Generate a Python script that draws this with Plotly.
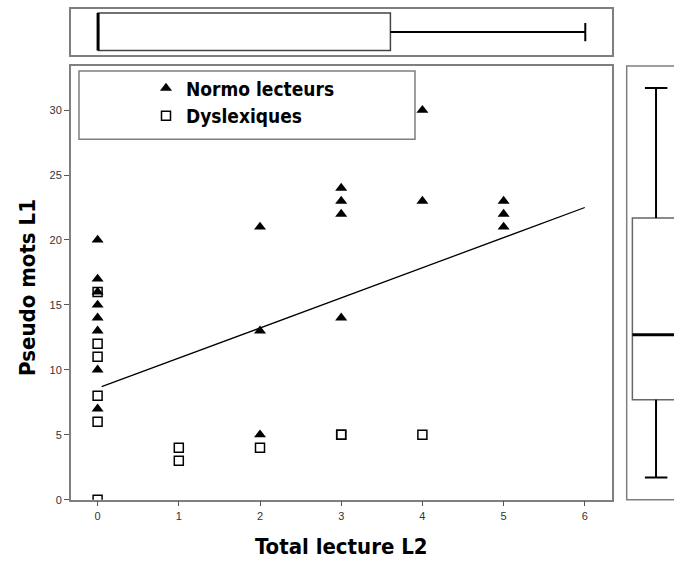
import plotly.graph_objects as go

# ---- data ----
normo_x = [0, 0, 0, 0, 0, 0, 0, 0, 2, 2, 2, 3, 3, 3, 3, 4, 4, 5, 5, 5]
normo_y = [20, 17, 16, 15, 14, 13, 10, 7, 21, 13, 5, 24, 23, 22, 14, 30, 23, 23, 22, 21]
dys_x = [0, 0, 0, 0, 0, 0, 1, 1, 2, 3, 3, 4]
dys_y = [16, 12, 11, 8, 6, 0, 4, 3, 4, 5, 5, 5]
fit_x = [0.05, 6]
fit_y = [8.7, 22.5]
# boxplot statistics: min, q1, median, q3, max
box_x_stats = [0, 0, 0, 3, 5]       # Total lecture L2
box_y_stats = [0, 6, 11, 20, 30]    # Pseudo mots L1
x_ticks = [0, 1, 2, 3, 4, 5, 6]
y_ticks = [0, 5, 10, 15, 20, 25, 30]

W, H = 674, 566
def px(x): return x / W
def py(y): return (H - y) / H

TITLE_FONT = dict(family="Liberation Sans Narrow, DejaVu Sans Condensed, Arial Narrow, sans-serif",
                  size=22, color="black", weight="bold")
TICK_FONT = dict(family="Liberation Sans, Arial, sans-serif", size=11, color="#333")
FRAME = "#7f7f7f"

fig = go.Figure()

# main scatter
fig.add_trace(go.Scatter(x=normo_x, y=normo_y, mode="markers", name="Normo lecteurs",
                         marker=dict(symbol="triangle-up", size=10.5, color="black",
                                     line=dict(width=0))))
fig.add_trace(go.Scatter(x=dys_x, y=dys_y, mode="markers", name="Dyslexiques",
                         marker=dict(symbol="square", size=9, color="rgba(255,255,255,0)",
                                     line=dict(width=1.5, color="black"))))
fig.add_trace(go.Scatter(x=fit_x, y=fit_y, mode="lines", showlegend=False,
                         line=dict(color="black", width=1.3)))

# top boxplot (horizontal) on xaxis2/yaxis2
mn, q1, md, q3, mx = box_x_stats
b0, b1, wy, c0, c1 = 0.10, 0.915, 0.505, 0.30, 0.70
fig.add_trace(go.Scatter(x=[q1, q3, q3, q1, q1], y=[b0, b0, b1, b1, b0], mode="lines",
                         line=dict(color="#444", width=1.5), showlegend=False,
                         xaxis="x2", yaxis="y2"))
fig.add_trace(go.Scatter(x=[md, md], y=[b0, b1], mode="lines",
                         line=dict(color="black", width=3), showlegend=False,
                         xaxis="x2", yaxis="y2"))
fig.add_trace(go.Scatter(x=[q3, mx, None, mn, q1], y=[wy, wy, None, wy, wy], mode="lines",
                         line=dict(color="black", width=2), showlegend=False,
                         xaxis="x2", yaxis="y2"))
fig.add_trace(go.Scatter(x=[mx, mx, None, mn, mn], y=[c0, c1, None, c0, c1], mode="lines",
                         line=dict(color="black", width=2), showlegend=False,
                         xaxis="x2", yaxis="y2"))

# right boxplot (vertical) on xaxis3/yaxis3
mn, q1, md, q3, mx = box_y_stats
a0, a1, wx, d0, d1 = 0.12, 1.2, 0.62, 0.385, 0.86
fig.add_trace(go.Scatter(x=[a1, a0, a0, a1], y=[q1, q1, q3, q3], mode="lines",
                         line=dict(color="#666", width=1.5), showlegend=False,
                         xaxis="x3", yaxis="y3", cliponaxis=True))
fig.add_trace(go.Scatter(x=[a0, a1], y=[md, md], mode="lines",
                         line=dict(color="black", width=3), showlegend=False,
                         xaxis="x3", yaxis="y3"))
fig.add_trace(go.Scatter(x=[wx, wx, None, wx, wx], y=[q3, mx, None, mn, q1], mode="lines",
                         line=dict(color="black", width=2), showlegend=False,
                         xaxis="x3", yaxis="y3"))
fig.add_trace(go.Scatter(x=[d0, d1, None, d0, d1], y=[mx, mx, None, mn, mn], mode="lines",
                         line=dict(color="black", width=2), showlegend=False,
                         xaxis="x3", yaxis="y3"))

main_xd = [px(70.8), px(611.6)]
main_yd = [py(505), py(66.7)]

rx0, rx1 = px(626.7), px(720)
ry0, ry1 = main_yd
right_frame = f"M {rx1},{ry0} L {rx0},{ry0} L {rx0},{ry1} L {rx1},{ry1}"

fig.update_layout(
    width=W, height=H, margin=dict(l=0, r=0, t=0, b=0),
    plot_bgcolor="white", paper_bgcolor="white",
    xaxis=dict(domain=main_xd, range=[-0.33, 6.33], tickvals=x_ticks,
               showgrid=False, zeroline=False, showline=True, mirror=True,
               linecolor=FRAME, linewidth=1.5, ticks="outside", ticklen=5,
               tickcolor="#555", tickfont=TICK_FONT),
    yaxis=dict(domain=main_yd, range=[0, 33.4], tickvals=y_ticks,
               showgrid=False, zeroline=False, showline=True, mirror=True,
               linecolor=FRAME, linewidth=1.5, ticks="outside", ticklen=5,
               tickcolor="#555", tickfont=TICK_FONT),
    xaxis2=dict(domain=main_xd, range=[-0.28, 5.27], anchor="y2", visible=True,
                showticklabels=False, ticks="", showgrid=False, zeroline=False,
                showline=True, mirror=True, linecolor=FRAME, linewidth=1.5),
    yaxis2=dict(domain=[py(55.7), py(9.3)], range=[0, 1], anchor="x2",
                showticklabels=False, ticks="", showgrid=False, zeroline=False,
                showline=True, mirror=True, linecolor=FRAME, linewidth=1.5),
    xaxis3=dict(domain=[px(626.7), 1.0], range=[0, 1], anchor="y3", visible=False),
    yaxis3=dict(domain=main_yd, range=[-1.7, 31.7], anchor="x3", visible=False),
    showlegend=True,
    legend=dict(x=px(146), y=py(70), xanchor="left", yanchor="top",
                bgcolor="rgba(0,0,0,0)", borderwidth=0, tracegroupgap=0,
                font=dict(family=TITLE_FONT["family"], size=19, color="black", weight="bold")),
    shapes=[
        dict(type="rect", xref="paper", yref="paper", x0=px(79), x1=px(415),
             y0=py(140.7), y1=py(71.7), line=dict(color=FRAME, width=1.5)),
        dict(type="path", xref="paper", yref="paper", path=right_frame,
             line=dict(color=FRAME, width=1.5)),
    ],
    annotations=[
        dict(text="Total lecture L2", xref="paper", yref="paper", x=px(341), y=py(552),
             showarrow=False, font=TITLE_FONT, xanchor="center", yanchor="middle"),
        dict(text="Pseudo mots L1", xref="paper", yref="paper", x=px(28), y=py(291),
             showarrow=False, font=TITLE_FONT, textangle=-90, xanchor="center", yanchor="middle"),
    ],
)

fig.write_html("out.html", config={"displayModeBar": False},
               post_script="document.body.style.margin='0';document.body.style.overflow='hidden';")
